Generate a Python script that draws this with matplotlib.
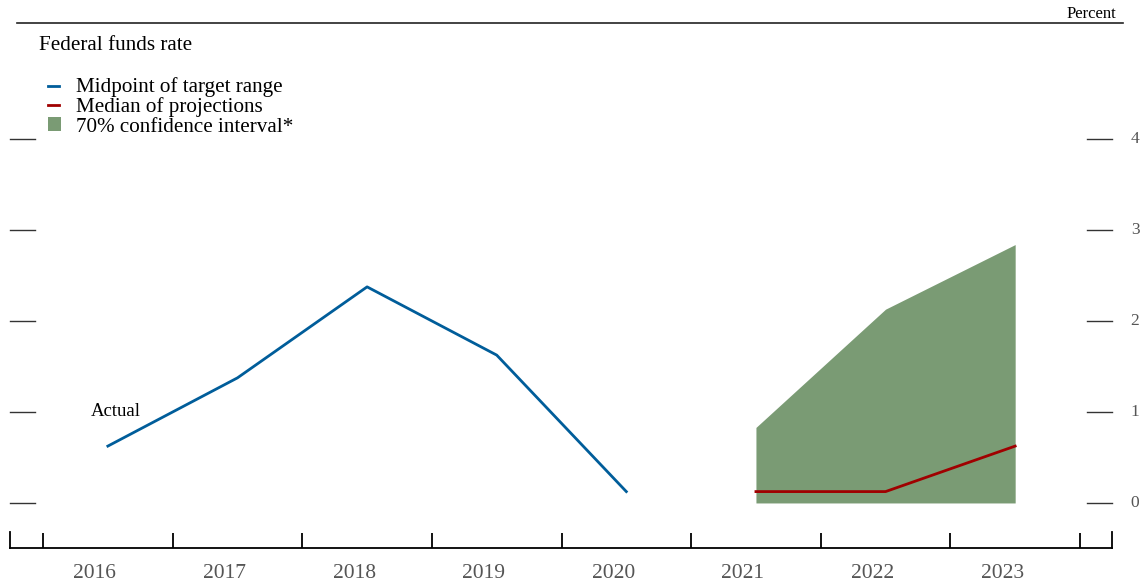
import matplotlib
matplotlib.use("Agg")
import matplotlib.pyplot as plt
from matplotlib.lines import Line2D
from matplotlib.patches import Rectangle

plt.rcParams['font.family'] = ['Liberation Serif', 'DejaVu Serif']

# data
years_actual = [2016, 2017, 2018, 2019, 2020]
midpoint = [0.625, 1.375, 2.375, 1.625, 0.125]
years_proj = [2021, 2022, 2023]
median_proj = [0.125, 0.125, 0.625]
ci_low = [0.0, 0.0, 0.0]
ci_high = [0.83, 2.13, 2.84]
year_labels = ['2016', '2017', '2018', '2019', '2020', '2021', '2022', '2023']
yticks = [0, 1, 2, 3, 4]

blue = '#005d9a'
red = '#a00000'
green = '#7a9b74'
grey = '#555555'

W, H = 1141, 582
fig = plt.figure(figsize=(W / 100, H / 100), dpi=100)
ax = fig.add_axes([10 / W, 1 - 548 / H, (1112 - 10) / W, (548 - 23) / H])

ax.set_xlim(2015.245, 2023.747)
ax.set_ylim(-0.495, 5.275)

ax.fill_between(years_proj, ci_low, ci_high, color=green, lw=0)
ax.plot(years_actual, midpoint, color=blue, lw=2)
ax.plot(years_proj, median_proj, color=red, lw=2)

ax.text(2016.06, 1.0, 'Actual', fontsize=13.5, ha='center', va='center')

for s in ['top', 'left', 'right']:
    ax.spines[s].set_visible(False)
ax.spines['bottom'].set_linewidth(1.3)

# year boundary ticks
ax.set_xticks([y + 0.5 for y in range(2015, 2024)])
ax.set_xticklabels([])
ax.tick_params(axis='x', direction='in', length=11, width=1.3)
ax.set_yticks([])

# year labels, a little left of the year midpoints
for lab, yr in zip(year_labels, range(2016, 2024)):
    ax.text(yr - 0.1, -25 / 525, lab, transform=ax.get_xaxis_transform(),
            fontsize=15.5, color=grey, ha='center', va='center')

# horizontal stubs on both sides
for v in yticks:
    ax.plot([0, 25 / 1102], [v, v], transform=ax.get_yaxis_transform(), color='#333333', lw=1, clip_on=False)
    ax.plot([1 - 25 / 1102, 1], [v, v], transform=ax.get_yaxis_transform(), color='#333333', lw=1, clip_on=False)
    ax.text(1 + 23 / 1102, v, str(v), transform=ax.get_yaxis_transform(), fontsize=12.5,
            color=grey, ha='center', va='center')

# end ticks of x axis
for xe in [0, 1]:
    ax.plot([xe, xe], [0, 16 / 525], transform=ax.transAxes, color='black', lw=1.3, clip_on=False)

# top rule and headers
fig.add_artist(Line2D([17 / W, 1123 / W], [1 - 23 / H, 1 - 23 / H], color='#222222', lw=1.2))
fig.text(1116 / W, 1 - 14 / H, 'Percent', fontsize=12, ha='right', va='center')
fig.text(39 / W, 1 - 45 / H, 'Federal funds rate', fontsize=15.2, ha='left', va='center')

# legend
rows = [(86, 'Midpoint of target range', blue, 'line'),
        (105, 'Median of projections', red, 'line'),
        (124, '70% confidence interval*', green, 'box')]
for i, (yy, lab, col, kind) in enumerate(rows):
    yf = 1 - yy / H
    if kind == 'line':
        fig.add_artist(Line2D([48 / W, 59 / W], [yf, yf], color=col, lw=2))
    else:
        fig.add_artist(Rectangle((48 / W, yf - 7 / H), 13 / W, 14 / H, color=col, lw=0))
    fig.text(76 / W, yf - (1 + i) / H, lab, fontsize=15.2, ha='left', va='center')

fig.savefig('out.png', dpi=100)
